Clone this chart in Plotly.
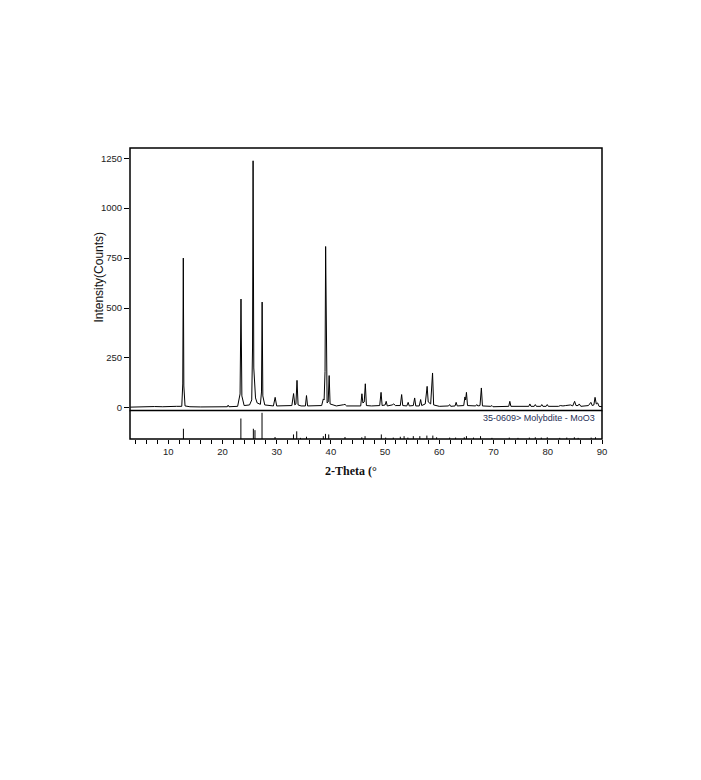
import plotly.graph_objects as go

theta = [3.0, 4.5, 6.0, 7.5, 9.0, 10.5, 11.5, 12.5, 12.68, 12.78, 12.88, 13.1, 14.0, 16.0, 18.0,
         20.0, 20.9, 21.05, 21.2, 22.8, 23.25, 23.42, 23.58, 24.0, 25.0, 25.4, 25.55, 25.65,
         25.78, 26.1, 26.4, 27.0, 27.2, 27.32, 27.45, 27.8, 29.4, 29.72, 30.0, 32.8, 33.12,
         33.35, 33.55, 33.75, 33.95, 34.5, 35.3, 35.5, 35.7, 38.3, 38.6, 38.75, 38.92, 39.03,
         39.15, 39.3, 39.5, 39.68, 39.85, 41.0, 42.3, 42.6, 42.9, 45.5, 45.72, 45.9, 46.15,
         46.35, 46.55, 47.5, 49.0, 49.25, 49.45, 50.0, 50.2, 50.4, 51.3, 51.6, 51.9, 52.8,
         53.05, 53.25, 54.0, 54.25, 54.45, 55.2, 55.45, 55.65, 56.3, 56.55, 56.75, 57.4,
         57.75, 57.95, 58.4, 58.75, 58.95, 60.0, 61.7, 61.9, 62.1, 62.9, 63.1, 63.3, 64.5,
         64.72, 64.85, 65.0, 65.2, 66.7, 66.9, 67.1, 67.5, 67.75, 67.95, 69.5, 69.7, 69.9,
         72.8, 73.0, 73.2, 76.5, 76.7, 76.9, 77.5, 77.7, 77.9, 78.7, 78.9, 79.1, 79.7, 79.9,
         80.1, 82.0, 82.3, 82.8, 83.3, 83.8, 84.2, 84.6, 84.95, 85.2, 85.6, 85.8, 86.1,
         87.5, 87.95, 88.2, 88.5, 88.72, 88.95, 89.2, 89.45, 90.0]
counts = [4, 6, 5, 7, 6, 5, 8, 8, 120, 750, 110, 10, 6, 5, 6,
          5, 6, 14, 6, 8, 70, 545, 60, 12, 15, 40, 300, 1237,
          200, 50, 25, 18, 80, 530, 60, 15, 10, 53, 10, 12, 72,
          15, 20, 138, 15, 10, 10, 62, 10, 12, 45, 40, 183, 808,
          120, 25, 30, 162, 20, 10, 16, 18, 10, 10, 71, 25, 30,
          121, 12, 10, 12, 78, 12, 15, 33, 10, 15, 20, 12, 12,
          67, 12, 10, 28, 10, 12, 50, 10, 10, 42, 12, 20,
          108, 30, 20, 175, 15, 8, 10, 17, 8, 10, 28, 10, 12,
          55, 40, 78, 12, 10, 17, 10, 12, 100, 10, 8, 12, 6,
          8, 33, 8, 8, 20, 8, 8, 17, 8, 8, 17, 8, 8, 17,
          8, 8, 12, 10, 12, 13, 15, 10, 33, 12, 12, 20, 8,
          12, 28, 12, 15, 53, 20, 25, 8, 6]

# Reference card 35-0609 (Molybdite - MoO3): line positions and relative heights (%)
ref_theta = [12.8, 23.4, 25.7, 26.0, 27.3, 29.7, 33.1, 33.7, 34.4, 35.5, 38.6, 39.0, 39.6,
             42.6, 45.7, 46.3, 49.3, 50.1, 51.5, 52.8, 53.5, 54.2, 55.2, 56.4, 57.7, 58.8,
             59.5, 61.9, 63.0, 64.6, 65.0, 66.3, 67.6, 69.7, 72.9, 74.5, 76.6, 77.7, 78.8,
             79.9, 82.2, 83.5, 84.9, 85.6, 88.0, 88.8]
ref_rel = [36, 72, 36, 31, 92, 7, 16, 27, 4, 8, 10, 18, 16,
           7, 6, 10, 16, 5, 5, 8, 10, 5, 10, 10, 12, 12,
           6, 5, 5, 6, 10, 5, 10, 4, 5, 4, 5, 6, 5,
           6, 4, 5, 6, 4, 5, 6]

x_ticks = [10, 20, 30, 40, 50, 60, 70, 80, 90]
y_ticks = [0, 250, 500, 750, 1000, 1250]
card_label = "35-0609> Molybdite - MoO3"

# stick segments built from the reference arrays
stick_x, stick_y = [], []
for t, r in zip(ref_theta, ref_rel):
    stick_x += [t, t, None]
    stick_y += [0, r, None]

fig = go.Figure()
fig.add_trace(go.Scatter(x=theta, y=counts, mode="lines", xaxis="x2", yaxis="y2",
                         line=dict(color="black", width=1), showlegend=False,
                         hoverinfo="skip"))
fig.add_trace(go.Scatter(x=stick_x, y=stick_y, mode="lines", xaxis="x", yaxis="y",
                         line=dict(color="black", width=1), showlegend=False,
                         hoverinfo="skip"))

tickfont = dict(family="Liberation Sans, Arial, sans-serif", size=9.5, color="#222")
split = 0.0978

fig.update_layout(
    width=701, height=780,
    margin=dict(l=122, r=107, t=140, b=348.5, pad=0, autoexpand=False),
    paper_bgcolor="white", plot_bgcolor="white",
    xaxis=dict(domain=[0, 1], range=[2.95, 90], anchor="y",
               showline=False, linecolor="black",
               ticks="outside", tickvals=x_ticks, ticklen=4, tickwidth=1,
               tickcolor="black", tickfont=tickfont,
               minor=dict(dtick=2, ticks="outside", ticklen=4, tickcolor="black"),
               showgrid=False, zeroline=False),
    yaxis=dict(domain=[0, split], range=[0, 100], anchor="x",
               showline=False, showticklabels=False, ticks="",
               showgrid=False, zeroline=False),
    xaxis2=dict(domain=[0, 1], matches="x", anchor="y2",
                showline=False, showticklabels=False, ticks="",
                minor=dict(ticks=""),
                showgrid=False, zeroline=False),
    yaxis2=dict(domain=[split, 1], range=[-13, 1301], anchor="x2",
                showline=False, linecolor="black",
                ticks="outside", tickvals=y_ticks, ticklen=5, tickwidth=1,
                tickcolor="black", tickfont=tickfont,
                showgrid=False, zeroline=False),
    shapes=[
        dict(type="rect", xref="paper", yref="paper", x0=0, x1=1, y0=split, y1=1,
             line=dict(color="black", width=1.5), fillcolor="rgba(0,0,0,0)", layer="above"),
        dict(type="path", xref="paper", yref="paper",
             path=f"M0,{split} L0,0 L1,0 L1,{split}",
             line=dict(color="black", width=1.5), layer="above"),
    ],
    annotations=[
        dict(text="Intensity(Counts)", textangle=-90, xref="paper", yref="paper",
             x=-0.066, y=0.5575, xanchor="center", yanchor="middle", showarrow=False,
             font=dict(family="Liberation Sans, Arial, sans-serif", size=12, color="#111")),
        dict(text="<b>2-Theta (°</b>", xref="paper", yref="paper",
             x=0.468, y=-0.1115, xanchor="center", yanchor="middle", showarrow=False,
             font=dict(family="Liberation Serif, Times New Roman, serif", size=12, color="#111")),
        dict(text=card_label, xref="paper", yref="paper",
             x=0.989, y=0.072, xanchor="right", yanchor="middle", showarrow=False,
             font=dict(family="Liberation Sans, Arial, sans-serif", size=9, color="#1f2f55")),
    ],
)

fig.write_html("out.html")
